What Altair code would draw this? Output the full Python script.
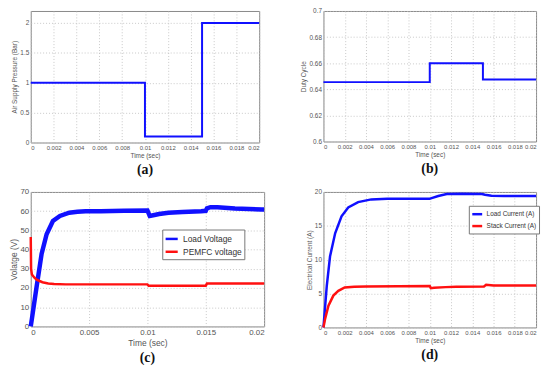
import altair as alt
import pandas as pd

# ---------------- data ----------------
# (a) air supply pressure (step)
a_t = [0, 0.01, 0.015, 0.02]
a_p = [1.0, 0.1, 2.0, 2.0]

# (b) duty cycle (step)
b_t = [0, 0.01, 0.015, 0.02]
b_d = [0.6455, 0.66, 0.6475, 0.6475]

# (c) voltages
c_load_t = [0, 0.0001, 0.0005, 0.00093, 0.00136, 0.0019, 0.0025, 0.0033, 0.004, 0.0047,
            0.006, 0.008, 0.01, 0.0102, 0.0106, 0.011, 0.0118, 0.013, 0.0146, 0.015,
            0.0151, 0.0154, 0.016, 0.0175, 0.0198, 0.02]
c_load_v = [0, 4, 20.6, 37.7, 48, 54.9, 57.5, 59.2, 59.7, 60,
            60, 60.2, 60.3, 57.5, 58, 58.5, 59.2, 59.6, 60, 60.2,
            61.5, 62.1, 62, 61.4, 60.9, 60.9]
c_pem_t = [0, 0.00003, 0.0001, 0.0003, 0.0005, 0.001, 0.0015, 0.002, 0.003, 0.005,
           0.01, 0.0101, 0.015, 0.0151, 0.02]
c_pem_v = [46.5, 30, 27, 25.5, 24.3, 23, 22.4, 22.1, 21.9, 21.9,
           21.9, 21.2, 21.2, 22.3, 22.4]

# (d) currents
d_load_t = [0, 0.00031, 0.00062, 0.0011, 0.0017, 0.00233, 0.00326, 0.0045, 0.006, 0.01,
            0.0101, 0.0108, 0.0116, 0.013, 0.0149, 0.0152, 0.0158, 0.017, 0.02]
d_load_i = [0, 6.1, 10.5, 13.9, 16.4, 17.7, 18.5, 18.9, 19.0, 19.0,
            19.05, 19.4, 19.7, 19.75, 19.7, 19.6, 19.45, 19.4, 19.4]
d_stack_t = [0, 0.00016, 0.00047, 0.00093, 0.0014, 0.002, 0.0029, 0.004, 0.01, 0.0101,
             0.0104, 0.0115, 0.0125, 0.0151, 0.0153, 0.016, 0.02]
d_stack_i = [0, 1.3, 3.2, 4.7, 5.4, 5.9, 6.0, 6.05, 6.1, 5.8,
             5.85, 5.95, 6.0, 6.05, 6.3, 6.2, 6.2]

ticks_fine = [0, 0.002, 0.004, 0.006, 0.008, 0.01, 0.012, 0.014, 0.016, 0.018, 0.02]
ticks_coarse = [0, 0.005, 0.01, 0.015, 0.02]

BLUE = "#1010ff"
RED = "#ff1010"
FONT = "Liberation Sans"
TXT = "#555555"


def x_axis(values, size, title_size):
    return alt.Axis(values=values, format=".3~f", title="Time (sec)", labelFontSize=size,
                    titleFontSize=title_size, labelPadding=2, titlePadding=2)


def y_axis(title, values, fmt, size, title_size):
    return alt.Axis(values=values, format=fmt, title=title, labelFontSize=size,
                    titleFontSize=title_size, labelPadding=2, titlePadding=2)


def label(txt):
    return alt.TitleParams(txt, orient="bottom", font="Liberation Serif", fontSize=14,
                           fontWeight="bold", color="#111", anchor="middle", offset=4)


# (a)
df_a = pd.DataFrame({"t": a_t, "v": a_p})
chart_a = alt.Chart(df_a).mark_line(color=BLUE, strokeWidth=2, interpolate="step-after").encode(
    x=alt.X("t:Q", scale=alt.Scale(domain=[0, 0.02], nice=False), axis=x_axis(ticks_fine, 6, 6.5)),
    y=alt.Y("v:Q", scale=alt.Scale(domain=[0, 2.2], nice=False),
            axis=y_axis("Air Supply Pressure (Bar)", [0, 0.5, 1, 1.5, 2], ".1~f", 6.5, 6.5)),
).properties(width=231, height=133, title=label("(a)"))

# (b)
df_b = pd.DataFrame({"t": b_t, "v": b_d})
chart_b = alt.Chart(df_b).mark_line(color=BLUE, strokeWidth=2, interpolate="step-after").encode(
    x=alt.X("t:Q", scale=alt.Scale(domain=[0, 0.02], nice=False), axis=x_axis(ticks_fine, 6, 6.5)),
    y=alt.Y("v:Q", scale=alt.Scale(domain=[0.6, 0.7], nice=False, zero=False),
            axis=y_axis("Duty Cycle", [0.6, 0.62, 0.64, 0.66, 0.68, 0.7], ".2~f", 6.5, 6.5)),
).properties(width=215, height=132, title=label("(b)"))

# (c)
df_c = pd.concat([
    pd.DataFrame({"t": c_load_t, "v": c_load_v, "s": "Load Voltage"}),
    pd.DataFrame({"t": c_pem_t, "v": c_pem_v, "s": "PEMFC voltage"}),
])
c_color = alt.Color("s:N", scale=alt.Scale(domain=["Load Voltage", "PEMFC voltage"], range=[BLUE, RED]),
                    legend=alt.Legend(title=None, orient="none", legendX=133, legendY=38,
                                      labelFontSize=8.5, labelFont=FONT, labelColor="#333",
                                      symbolType="stroke", symbolSize=150, symbolStrokeWidth=2.5,
                                      fillColor="white", strokeColor="#777", padding=2,
                                      rowPadding=0, labelOffset=4))
c_x = alt.X("t:Q", scale=alt.Scale(domain=[0, 0.02], nice=False), axis=x_axis(ticks_coarse, 8, 8.5))
c_y = alt.Y("v:Q", scale=alt.Scale(domain=[0, 70], nice=False),
            axis=y_axis("Volatge (V)", [0, 10, 20, 30, 40, 50, 60, 70], "d", 8, 8.5))
base_c = alt.Chart(df_c).encode(x=c_x, y=c_y, color=c_color)
chart_c = alt.layer(
    base_c.transform_filter(alt.datum.s == "Load Voltage").mark_line(strokeWidth=4.5),
    base_c.transform_filter(alt.datum.s == "PEMFC voltage").mark_line(strokeWidth=2.5),
).properties(width=236, height=136, title=label("(c)"))

# (d)
df_d = pd.concat([
    pd.DataFrame({"t": d_load_t, "v": d_load_i, "s": "Load Current (A)"}),
    pd.DataFrame({"t": d_stack_t, "v": d_stack_i, "s": "Stack Current (A)"}),
])
d_color = alt.Color("s:N", scale=alt.Scale(domain=["Load Current (A)", "Stack Current (A)"], range=[BLUE, RED]),
                    legend=alt.Legend(title=None, orient="none", legendX=147, legendY=14,
                                      labelFontSize=6.5, labelFont=FONT, labelColor="#333",
                                      symbolType="stroke", symbolSize=100, symbolStrokeWidth=2.5,
                                      fillColor="white", strokeColor="#777", padding=2,
                                      rowPadding=0, labelOffset=3))
d_x = alt.X("t:Q", scale=alt.Scale(domain=[0, 0.02], nice=False), axis=x_axis(ticks_fine, 6, 6.5))
d_y = alt.Y("v:Q", scale=alt.Scale(domain=[0, 20], nice=False),
            axis=y_axis("Electrical Current (A)", [0, 5, 10, 15, 20], "d", 6.5, 6.5))
chart_d = alt.Chart(df_d).mark_line(strokeWidth=2.5).encode(x=d_x, y=d_y, color=d_color).properties(
    width=215, height=137, title=label("(d)"))

row1 = alt.hconcat(chart_a, chart_b, spacing=65, bounds="flush").resolve_scale(
    x="independent", y="independent")
row2 = alt.hconcat(chart_c, chart_d, spacing=60, bounds="flush").resolve_scale(
    x="independent", y="independent", color="independent")

chart = alt.vconcat(row1, row2, spacing=10).resolve_scale(
    x="independent", y="independent", color="independent"
).properties(padding={"top": -3, "left": 0, "right": 0, "bottom": 0}).configure_view(
    stroke="#888888", strokeWidth=1
).configure_axis(
    labelFont=FONT, titleFont=FONT, labelColor=TXT, titleColor=TXT, titleFontWeight="normal",
    ticks=False, domain=False, grid=True, gridDash=[1, 2], gridColor="#bbbbbb", gridWidth=0.8
)

chart.save("out.html", embed_options={"renderer": "svg", "actions": False})
